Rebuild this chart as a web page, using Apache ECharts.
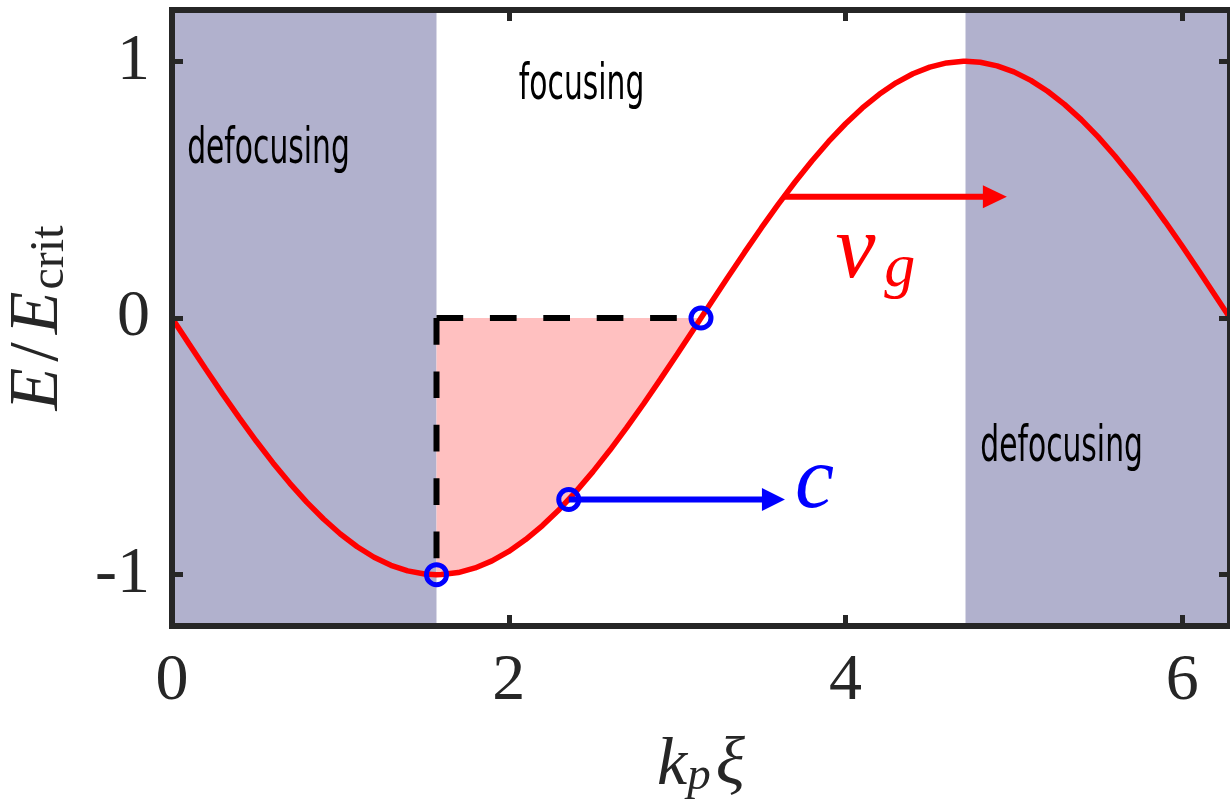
<!DOCTYPE html>
<html>
<head>
<meta charset="utf-8">
<script src="https://cdn.jsdelivr.net/npm/echarts@6/dist/echarts.min.js"></script>
<style>
  html, body { margin: 0; padding: 0; background: #ffffff; }
  #main { width: 1230px; height: 805px; }
</style>
</head>
<body>
<div id="main"></div>
<script>
// Wake field E/E_crit against phase k_p xi
const phase = [
  0, 0.1, 0.2, 0.3, 0.4, 0.5, 0.6, 0.7, 0.8, 0.9, 1.0, 1.1, 1.2, 1.3, 1.4, 1.5, 1.5708,
  1.6, 1.7, 1.8, 1.9, 2.0, 2.1, 2.2, 2.3, 2.4, 2.5, 2.6, 2.7, 2.8, 2.9, 3.0, 3.1, 3.1416,
  3.2, 3.3, 3.4, 3.5, 3.6, 3.7, 3.8, 3.9, 4.0, 4.1, 4.2, 4.3, 4.4, 4.5, 4.6, 4.7, 4.7124,
  4.8, 4.9, 5.0, 5.1, 5.2, 5.3, 5.4, 5.5, 5.6, 5.7, 5.8, 5.9, 6.0, 6.1, 6.2, 6.2832
];
const field = [
  0, -0.0998, -0.1987, -0.2955, -0.3894, -0.4794, -0.5646, -0.6442, -0.7174, -0.7833, -0.8415,
  -0.8912, -0.9320, -0.9636, -0.9854, -0.9975, -1,
  -0.9996, -0.9917, -0.9738, -0.9463, -0.9093, -0.8632, -0.8085, -0.7457, -0.6755, -0.5985,
  -0.5155, -0.4274, -0.3350, -0.2392, -0.1411, -0.0416, 0,
  0.0584, 0.1577, 0.2555, 0.3508, 0.4425, 0.5298, 0.6119, 0.6878, 0.7568, 0.8183, 0.8716,
  0.9162, 0.9516, 0.9775, 0.9937, 0.9999, 1,
  0.9962, 0.9825, 0.9589, 0.9258, 0.8835, 0.8323, 0.7728, 0.7055, 0.6313, 0.5507, 0.4646,
  0.3739, 0.2794, 0.1822, 0.0831, 0
];

// Axis ranges and ticks
const xRange = [0, 6.2832];
const yRange = [-1.2, 1.2];
const xTicks = [0, 2, 4, 6];
const yTicks = [-1, 0, 1];

// Defocusing bands (phase intervals)
const defocusBands = [[0, 1.5708], [4.7124, 6.2832]];

// Shaded focusing-phase area between the field and zero
const fillStart = 1.5708;
const fillEnd = 3.1416;

// Dashed guides from the corner (pi/2, 0)
const guideCorner = [1.5708, 0];
const guideDown = [1.5708, -1];
const guideRight = [3.1416, 0];

// Marked points on the field curve
const markerPhase = [1.5708, 2.3562, 3.1416];
const markerField = [-1, -0.7071, 0];

// Arrows: [x0, y0, x1, y1]
const cArrow = [2.3562, -0.7071, 3.64, -0.7071];
const vgArrow = [3.628, 0.472, 4.958, 0.472];

// Region annotations
const regionText = ['defocusing', 'focusing', 'defocusing'];
const regionX = [0.09, 2.06, 4.80];
const regionY = [0.653, 0.906, -0.508];

// Velocity symbols
const symbolText = ['c', 'v', 'g'];
const symbolX = [3.70, 3.94, 4.23];
const symbolY = [-0.648, 0.252, 0.19];

const axisColor = '#262626';
const serif = 'Liberation Serif';

const curveData = phase.map((x, i) => [x, field[i]]);
const fillData = curveData.filter(p => p[0] >= fillStart - 1e-9 && p[0] <= fillEnd + 1e-9);

function arrowRenderer(color, width, headLen, headHalf) {
  return function (params, api) {
    const a = api.coord([api.value(0), api.value(1)]);
    const b = api.coord([api.value(2), api.value(3)]);
    const dx = b[0] - a[0], dy = b[1] - a[1];
    const L = Math.hypot(dx, dy);
    const ux = dx / L, uy = dy / L;
    const bx = b[0] - ux * headLen, by = b[1] - uy * headLen;
    return {
      type: 'group',
      children: [
        { type: 'line', shape: { x1: a[0], y1: a[1], x2: bx + ux, y2: by + uy },
          style: { stroke: color, lineWidth: width } },
        { type: 'polygon',
          shape: { points: [[b[0], b[1]], [bx - uy * headHalf, by + ux * headHalf], [bx + uy * headHalf, by - ux * headHalf]] },
          style: { fill: color } }
      ]
    };
  };
}

// Label styles for the c, v and g symbols
const symbolStyles = [
  { fontSize: 88, color: '#0000ff' },
  { fontSize: 90, color: '#ff0000' },
  { fontSize: 62, color: '#ff0000' }
];

function frameAxis(extra) {
  return Object.assign({
    type: 'value',
    z: 10,
    splitLine: { show: false },
    axisLine: { show: true, onZero: false, lineStyle: { color: axisColor, width: 6, cap: 'square' } },
    axisTick: { show: true, inside: true, length: 11, lineStyle: { color: axisColor, width: 5 } },
    axisLabel: { show: false }
  }, extra);
}

const chart = echarts.init(document.getElementById('main'), null, { renderer: 'canvas' });

const option = {
  animation: false,
  backgroundColor: '#ffffff',
  grid: { left: 172, top: 10, width: 1058, height: 616, containLabel: false, outerBoundsMode: 'none' },
  xAxis: [
    frameAxis({
      position: 'bottom', min: xRange[0], max: xRange[1],
      axisTick: { show: true, inside: true, length: 11, customValues: xTicks, lineStyle: { color: axisColor, width: 5 } },
      axisLabel: { show: true, customValues: xTicks, margin: 23, color: axisColor,
        fontFamily: serif, fontSize: 66 },
      name: '{i|k}{p|p}{i|ξ}',
      nameLocation: 'middle',
      nameGap: 106,
      nameTextStyle: {
        rich: {
          i: { fontFamily: serif, fontStyle: 'italic', fontSize: 68, lineHeight: 68, verticalAlign: 'middle', color: axisColor },
          p: { fontFamily: serif, fontStyle: 'italic', fontSize: 47, lineHeight: 44, verticalAlign: 'bottom', color: axisColor, padding: [0, 5, 0, 0] }
        }
      }
    }),
    frameAxis({
      position: 'top', min: xRange[0], max: xRange[1],
      axisTick: { show: true, inside: true, length: 11, customValues: xTicks, lineStyle: { color: axisColor, width: 5 } }
    })
  ],
  yAxis: [
    frameAxis({
      position: 'left', min: yRange[0], max: yRange[1],
      axisTick: { show: true, inside: true, length: 11, customValues: yTicks, lineStyle: { color: axisColor, width: 5 } },
      axisLabel: { show: true, customValues: yTicks, margin: 22, color: axisColor,
        fontFamily: serif, fontSize: 66 },
      name: '{i|E}{s|/}{i|E}{r|crit}',
      nameLocation: 'middle',
      nameGap: 98,
      nameTextStyle: {
        rich: {
          i: { fontFamily: serif, fontStyle: 'italic', fontSize: 70, lineHeight: 70, verticalAlign: 'middle', color: axisColor },
          s: { fontFamily: serif, fontSize: 70, lineHeight: 70, verticalAlign: 'middle', color: axisColor, padding: [0, 8, 0, 6] },
          r: { fontFamily: serif, fontSize: 48, lineHeight: 34, verticalAlign: 'bottom', color: axisColor, padding: [0, 0, 0, 2] }
        }
      }
    }),
    frameAxis({
      position: 'right', min: yRange[0], max: yRange[1],
      axisTick: { show: true, inside: true, length: 11, customValues: yTicks, lineStyle: { color: axisColor, width: 5 } }
    })
  ],
  series: [
    {
      name: 'focusing area',
      type: 'line',
      z: 1,
      data: fillData,
      showSymbol: false,
      lineStyle: { width: 0 },
      areaStyle: { color: '#ffc0c0', opacity: 1 },
      silent: true,
      markArea: {
        silent: true,
        itemStyle: { color: '#b1b1cd', opacity: 1 },
        data: defocusBands.map(b => [{ xAxis: b[0] }, { xAxis: b[1] }])
      }
    },
    {
      name: 'guide down',
      type: 'line',
      z: 3,
      data: [guideCorner, guideDown],
      showSymbol: false,
      lineStyle: { color: '#000000', width: 6, type: [26.7, 26.7], cap: 'butt' },
      silent: true
    },
    {
      name: 'guide right',
      type: 'line',
      z: 3,
      data: [guideCorner, guideRight],
      showSymbol: false,
      lineStyle: { color: '#000000', width: 6, type: [26.7, 26.7], cap: 'butt' },
      silent: true
    },
    {
      name: 'field',
      type: 'line',
      z: 4,
      data: curveData,
      showSymbol: false,
      lineStyle: { color: '#ff0000', width: 5.5 },
      silent: true
    },
    {
      name: 'c arrow',
      type: 'custom',
      z: 5,
      data: [cArrow],
      renderItem: arrowRenderer('#0000ff', 6, 23, 11.5),
      silent: true
    },
    {
      name: 'vg arrow',
      type: 'custom',
      z: 5,
      data: [vgArrow],
      renderItem: arrowRenderer('#ff0000', 6, 24, 11.5),
      silent: true
    },
    {
      name: 'markers',
      type: 'scatter',
      z: 6,
      data: markerPhase.map((x, i) => [x, markerField[i]]),
      symbol: 'circle',
      symbolSize: 20,
      itemStyle: { color: 'rgba(255,255,255,0)', borderColor: '#0000ff', borderWidth: 5, opacity: 1 },
      emphasis: { disabled: true },
      silent: true
    },
    {
      name: 'regions',
      type: 'custom',
      z: 7,
      data: regionX.map((x, i) => [x, regionY[i]]),
      renderItem: function (params, api) {
        const p = api.coord([api.value(0), api.value(1)]);
        return {
          type: 'text', x: p[0], y: p[1], scaleX: 0.62, scaleY: 1.05,
          style: { text: regionText[params.dataIndex], fontFamily: 'DejaVu Sans', fontSize: 48,
            fill: '#000000', align: 'left', verticalAlign: 'middle' }
        };
      },
      silent: true
    },
    {
      name: 'symbols',
      type: 'custom',
      z: 7,
      data: symbolX.map((x, i) => [x, symbolY[i]]),
      renderItem: function (params, api) {
        const p = api.coord([api.value(0), api.value(1)]);
        const s = symbolStyles[params.dataIndex];
        return {
          type: 'text', x: p[0], y: p[1],
          style: { text: symbolText[params.dataIndex], fontFamily: serif, fontStyle: 'italic',
            fontSize: s.fontSize, fill: s.color, lineWidth: 0, align: 'left', verticalAlign: 'middle' }
        };
      },
      silent: true
    }
  ]
};

chart.setOption(option);
</script>
</body>
</html>
